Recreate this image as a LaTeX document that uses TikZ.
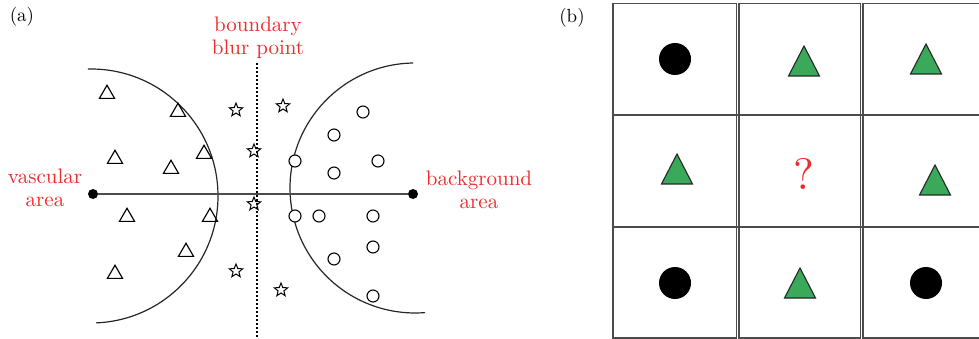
\documentclass[tikz,border=0pt]{standalone}
\usetikzlibrary{shapes.geometric}
\definecolor{lblred}{RGB}{236,44,44}
\definecolor{tgreen}{RGB}{58,170,90}
\newcommand\bigtxt[2]{\scalebox{#1}{\fontsize{10}{11}\selectfont\begin{tabular}{@{}c@{}}#2\end{tabular}}}
\begin{document}
\begin{tikzpicture}[x=1pt,y=-1pt,
  lbl/.style={text=lblred,inner sep=0pt},
  panel/.style={inner sep=0pt},
  htri/.style={draw=black,line width=1.15pt,regular polygon,regular polygon sides=3,minimum size=17.5pt,inner sep=0pt},
  hstar/.style={draw=black,line width=1.0pt,star,star points=5,star point ratio=2.3,minimum size=14pt,inner sep=0pt},
  hcirc/.style={draw=black,fill=white,line width=1.1pt,circle,minimum size=12pt,inner sep=0pt},
  enddot/.style={fill=black,circle,minimum size=10pt,inner sep=0pt},
  bdot/.style={fill=black,circle,minimum size=32pt,inner sep=0pt},
  arcline/.style={draw=black!85,line width=1.2pt},
  gridline/.style={draw=black!70,line width=1.4pt},
  gtri/.style={fill=tgreen,draw=black!85,line width=1.1pt,line join=miter}
]
\useasboundingbox (0,0) rectangle (979,339);
% panel labels
\node[panel] (pa) at (22,17) {\bigtxt{1.9}{(a)}};
\node[panel] (pb) at (572,18) {\bigtxt{1.9}{(b)}};
% texts
\node[lbl,anchor=north] (blur) at (258,15) {\bigtxt{2.1}{boundary\\blur point}};
\node[lbl,anchor=north] (vasc) at (45,167.5) {\bigtxt{2.1}{vascular\\area}};
\node[lbl,anchor=north] (bgl) at (479,169.5) {\bigtxt{2.1}{background\\area}};
% dashed boundary line
\coordinate (dtop) at (257,63);
\coordinate (dbot) at (257,339);
\draw[line width=1.6pt,dash pattern=on 2.4pt off 1.6pt] (dtop) -- (dbot);
% arcs
\coordinate (lc) at (91,196);
\coordinate (rc) at (415,188);
\draw[arcline] ([shift={(-91.4:127)}]lc) arc[start angle=-91.4,end angle=87.7,radius=127];
\draw[arcline] ([shift={(269.1:125)}]rc) arc[start angle=269.1,end angle=85.4,radius=125];
% horizontal axis
\node[enddot] (va) at (93,194) {};
\node[enddot] (ba) at (413,194) {};
\draw[draw=black!70,line width=1.4pt] (va) -- (ba);
% triangles
\foreach \x/\y [count=\i] in {107/92,178/110,204/152,115/157,171/167,127/215,210/215,186/250,115/272}
  \node[htri] (t\i) at (\x,\y+2) {};
% stars
\foreach \x/\y [count=\i] in {236/110,283/106,254/151,254/204,236/271,281/290}
  \node[hstar] (s\i) at (\x,\y) {};
% circles
\foreach \x/\y [count=\i] in {363/112,334/135,295/161,378/161,334/173,295/216,319/216,373/216,373/247,334/259,373/296}
  \node[hcirc] (c\i) at (\x,\y) {};
% grid
\draw[gridline] (613,3.5) rectangle (736.5,338);
\draw[gridline] (738.8,3.5) rectangle (860.5,338);
\draw[gridline] (862.8,3.5) rectangle (990,338);
\draw[gridline] (613,115) -- (979,115);
\draw[gridline] (613,227) -- (979,227);
% grid contents
\node[bdot] (b1) at (675,59) {};
\node[bdot] (b2) at (675,283) {};
\node[bdot] (b3) at (926,283) {};
\foreach \x/\y in {804/46,926/44,677/154,935/165,800/268}
  \draw[gtri] (\x,\y) -- (\x+15.5,\y+30) -- (\x-15.5,\y+30) -- cycle;
\node[text=lblred,inner sep=0pt] (q) at (804,174) {\scalebox{4.4}{\fontsize{10}{11}\selectfont ?}};
\end{tikzpicture}
\end{document}
